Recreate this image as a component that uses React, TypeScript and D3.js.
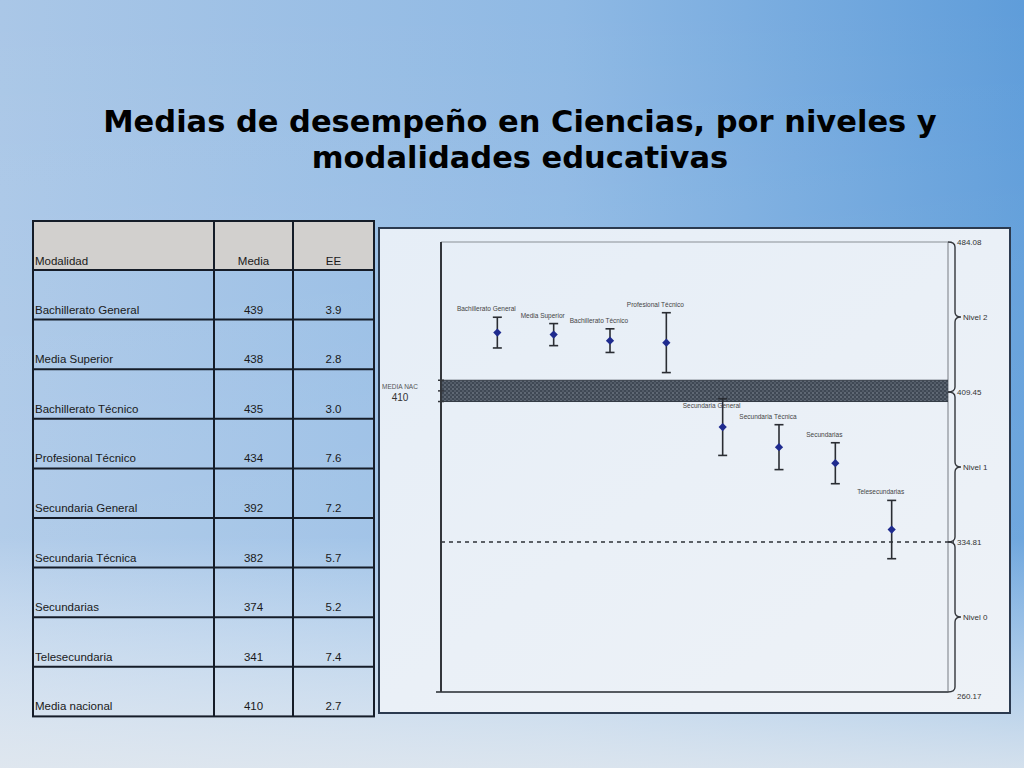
import * as d3 from "d3";

// Table / chart data
const modalidades = [
  "Bachillerato General",
  "Media Superior",
  "Bachillerato Técnico",
  "Profesional Técnico",
  "Secundaria General",
  "Secundaria Técnica",
  "Secundarias",
  "Telesecundaria",
];
const etiquetasGrafica = [
  "Bachillerato General",
  "Media Superior",
  "Bachillerato Técnico",
  "Profesional Técnico",
  "Secundaria General",
  "Secundaria Técnica",
  "Secundarias",
  "Telesecundarias",
];
const medias = [439, 438, 435, 434, 392, 382, 374, 341];
const errores = [3.9, 2.8, 3.0, 7.6, 7.2, 5.7, 5.2, 7.4];
const mediaNacional = 410;
const eeNacional = 2.7;
const cortes = [484.08, 409.45, 334.81, 260.17];
const niveles = ["Nivel 2", "Nivel 1", "Nivel 0"];

const W = 1024;
const H = 768;
const Z = 1.96;

export default function App() {
  // plot frame
  const left = 441;
  const right = 948;
  const top = 242;
  const bottom = 692;

  const y = d3.scaleLinear().domain([cortes[3], cortes[0]]).range([bottom, top]);
  const x = d3.scalePoint<string>().domain(etiquetasGrafica).range([left, right]).padding(1);

  const bandTop = y(mediaNacional + Z * eeNacional);
  const bandBot = y(mediaNacional - Z * eeNacional);

  // table layout
  const tx = 33;
  const ty = 221;
  const colW = [181, 79, 81];
  const headH = 49;
  const rowH = 49.6;
  const filas = [
    ...modalidades.map((m, i) => [m, String(medias[i]), errores[i].toFixed(1)]),
    ["Media nacional", String(mediaNacional), eeNacional.toFixed(1)],
  ];
  const tableW = colW[0] + colW[1] + colW[2];
  const tableH = headH + rowH * filas.length;

  const brace = (ya: number, yb: number) => {
    const x0 = right, x1 = right + 7, x2 = right + 13, r = 5;
    const ym = (ya + yb) / 2;
    return `M${x0},${ya} Q${x1},${ya} ${x1},${ya + r} L${x1},${ym - r} Q${x1},${ym} ${x2},${ym} Q${x1},${ym} ${x1},${ym + r} L${x1},${yb - r} Q${x1},${yb} ${x0},${yb}`;
  };

  // square turned 45 degrees, like the slide's markers
  const diamond = d3.symbol().type(d3.symbolSquare).size(34)();

  return (
    <div style={{ position: "absolute", left: 0, top: 0 }}>
      <svg width={W} height={H} style={{ display: "block" }}>
        <defs>
          <linearGradient id="bg" x1="0" y1="0" x2="1" y2="0">
            <stop offset="0" stopColor="#aac7e7" />
            <stop offset="0.55" stopColor="#8fb9e4" />
            <stop offset="1" stopColor="#5f9dda" />
          </linearGradient>
          <linearGradient id="bgv" x1="0" y1="0" x2="0" y2="1">
            <stop offset="0" stopColor="#ffffff" stopOpacity="0" />
            <stop offset="0.7" stopColor="#ffffff" stopOpacity="0.1" />
            <stop offset="1" stopColor="#e8ecf0" stopOpacity="0.85" />
          </linearGradient>
          <linearGradient id="panel" x1="0" y1="0" x2="1" y2="1">
            <stop offset="0" stopColor="#e6eef7" />
            <stop offset="1" stopColor="#eef2f7" />
          </linearGradient>
          <pattern id="hatch" width="4" height="4" patternUnits="userSpaceOnUse">
            <rect width="4" height="4" fill="#3f4854" />
            <rect width="2" height="2" fill="#5f6874" />
            <rect x="2" y="2" width="2" height="2" fill="#525b67" />
          </pattern>
        </defs>

        <rect width={W} height={H} fill="url(#bg)" />
        <rect width={W} height={H} fill="url(#bgv)" />

        {/* title */}
        <g fontFamily="DejaVu Sans" fontWeight="bold" fontSize={30.5} fill="#000" textAnchor="middle">
          <text x={520} y={132}>Medias de desempeño en Ciencias, por niveles y</text>
          <text x={520} y={168}>modalidades educativas</text>
        </g>

        {/* table */}
        <g fontFamily="Liberation Sans, Arial, sans-serif" fontSize={11.5} fill="#1a1a1a">
          <rect x={tx} y={ty} width={tableW} height={headH} fill="#d2d0ce" />
          {filas.map((f, i) => {
            const yb = ty + headH + rowH * (i + 1);
            return (
              <g key={i}>
                <text x={tx + 2} y={yb - 6}>{f[0]}</text>
                <text x={tx + colW[0] + colW[1] / 2} y={yb - 6} textAnchor="middle">{f[1]}</text>
                <text x={tx + colW[0] + colW[1] + colW[2] / 2} y={yb - 6} textAnchor="middle">{f[2]}</text>
              </g>
            );
          })}
          <text x={tx + 2} y={ty + headH - 5}>Modalidad</text>
          <text x={tx + colW[0] + colW[1] / 2} y={ty + headH - 5} textAnchor="middle">Media</text>
          <text x={tx + colW[0] + colW[1] + colW[2] / 2} y={ty + headH - 5} textAnchor="middle">EE</text>
          <g stroke="#151c28" strokeWidth={2} fill="none">
            <rect x={tx} y={ty} width={tableW} height={tableH} />
            <line x1={tx + colW[0]} x2={tx + colW[0]} y1={ty} y2={ty + tableH} />
            <line x1={tx + colW[0] + colW[1]} x2={tx + colW[0] + colW[1]} y1={ty} y2={ty + tableH} />
            {filas.map((_, i) => (
              <line key={i} x1={tx} x2={tx + tableW} y1={ty + headH + rowH * i} y2={ty + headH + rowH * i} />
            ))}
          </g>
        </g>

        {/* chart panel */}
        <rect x={379} y={228} width={631} height={485} fill="url(#panel)" stroke="#2b3a4f" strokeWidth={2} />

        <g fontFamily="Liberation Sans, Arial, sans-serif">
          {/* frame */}
          <line x1={left} x2={right} y1={top} y2={top} stroke="#8a8f96" strokeWidth={1.2} />
          <line x1={right} x2={right} y1={top} y2={bottom} stroke="#8a8f96" strokeWidth={1.2} />
          <line x1={left - 5} x2={right} y1={bottom} y2={bottom} stroke="#555a60" strokeWidth={2} />

          {/* national mean band */}
          <rect x={left} y={bandTop} width={right - left} height={bandBot - bandTop} fill="url(#hatch)" />
          <line x1={left} x2={right} y1={bandTop} y2={bandTop} stroke="#333a44" strokeWidth={1} />
          <line x1={left} x2={right} y1={bandBot} y2={bandBot} stroke="#333a44" strokeWidth={1} />

          {/* level 1 / 0 cut */}
          <line x1={left} x2={right + 6} y1={y(cortes[2])} y2={y(cortes[2])} stroke="#2e3238" strokeWidth={1.5} strokeDasharray="4,4" />

          <line x1={left} x2={left} y1={top} y2={bottom} stroke="#33363b" strokeWidth={2} />
          {[bandTop, y(mediaNacional), bandBot].map((v, i) => (
            <line key={i} x1={left - 3} x2={left + 3} y1={v} y2={v} stroke="#33363b" strokeWidth={1.5} />
          ))}

          <text x={400} y={389} fontSize={6.5} fill="#555" textAnchor="middle">MEDIA NAC</text>
          <text x={400} y={401} fontSize={10} fill="#333" textAnchor="middle">{mediaNacional}</text>

          {/* error bars */}
          {etiquetasGrafica.map((lab, i) => {
            const cx = x(lab) as number;
            const yHi = y(medias[i] + Z * errores[i]);
            const yLo = y(medias[i] - Z * errores[i]);
            let ly = yHi - 6;
            if (ly > bandTop - 2 && ly < bandBot + 8) ly = bandBot + 6;
            return (
              <g key={lab}>
                <line x1={cx} x2={cx} y1={yHi} y2={yLo} stroke="#2a2d33" strokeWidth={1.6} />
                <line x1={cx - 4.5} x2={cx + 4.5} y1={yHi} y2={yHi} stroke="#2a2d33" strokeWidth={1.6} />
                <line x1={cx - 4.5} x2={cx + 4.5} y1={yLo} y2={yLo} stroke="#2a2d33" strokeWidth={1.6} />
                <path d={diamond || ""} transform={`translate(${cx},${y(medias[i])}) rotate(45)`} fill="#1f2b8f" />
                <text x={cx - 11} y={ly} fontSize={6.5} fill="#444" textAnchor="middle">{lab}</text>
              </g>
            );
          })}

          {/* level braces */}
          {niveles.map((n, i) => {
            const ya = y(cortes[i]);
            const yb = y(cortes[i + 1]);
            return (
              <g key={n}>
                <path d={brace(ya, yb)} fill="none" stroke="#33363b" strokeWidth={1.4} />
                <text x={right + 15} y={(ya + yb) / 2 + 3} fontSize={8} fill="#333">{n}</text>
              </g>
            );
          })}
          {cortes.map((c, i) => (
            <text key={c} x={right + 9} y={y(c) + (i === cortes.length - 1 ? 7 : 3)} fontSize={8} fill="#333">
              {c.toFixed(2)}
            </text>
          ))}
        </g>
      </svg>
    </div>
  );
}
